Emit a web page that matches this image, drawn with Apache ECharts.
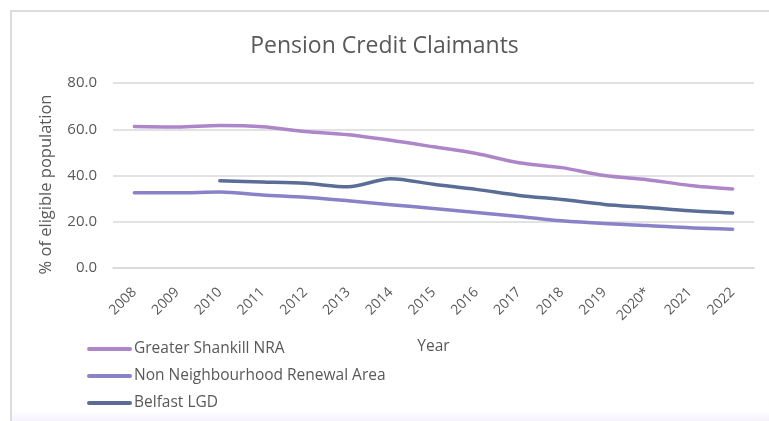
<!DOCTYPE html>
<html>
<head>
<meta charset="utf-8">
<script src="https://cdn.jsdelivr.net/npm/echarts@6/dist/echarts.min.js"></script>
<style>
  html, body { margin: 0; padding: 0; background: #fff; }
  .frame { position: absolute; left: 10px; top: 10px; width: 759px; height: 411px;
           border-top: 2px solid #dcdcdc; border-left: 2px solid #dcdcdc; box-sizing: border-box; }
  .fade { position: absolute; left: 12px; bottom: 0; width: 757px; height: 10px;
          background: linear-gradient(#ffffff, #f5f2fc); }
  #chart { position: absolute; left: 0; top: 0; width: 769px; height: 421px; }
</style>
</head>
<body>
<div class="frame"></div>
<div class="fade"></div>
<div id="chart"></div>
<script>
// data
const years = ['2008','2009','2010','2011','2012','2013','2014','2015','2016','2017','2018','2019','2020*','2021','2022'];
const shankill = [61.2, 61.0, 61.6, 61.1, 59.0, 57.6, 55.2, 52.4, 49.5, 45.5, 43.4, 40.0, 38.2, 35.7, 34.2];
const nonNRA = [32.5, 32.5, 32.9, 31.6, 30.6, 29.1, 27.4, 25.7, 24.0, 22.3, 20.4, 19.2, 18.4, 17.4, 16.8];
const belfast = [null, null, 37.7, 37.2, 36.6, 35.1, 38.6, 36.2, 34.0, 31.4, 29.6, 27.5, 26.2, 24.8, 23.8];

const txt = '#595959';
const font = '"Open Sans", "Noto Sans", sans-serif';

const myChart = echarts.init(document.getElementById('chart'), null, { renderer: 'canvas' });
myChart.setOption({
  animation: false,
  textStyle: { fontFamily: font },
  title: {
    text: 'Pension Credit Claimants',
    left: 'center',
    top: 30,
    textStyle: { fontFamily: font, fontSize: 23, fontWeight: 'normal', color: txt }
  },
  legend: {
    orient: 'vertical',
    left: 87,
    top: 341,
    padding: 0,
    itemWidth: 41,
    itemHeight: 14,
    itemGap: 11,
    itemStyle: { opacity: 0 },
    lineStyle: { width: 4 },
    textStyle: { fontFamily: font, fontSize: 15.5, color: txt, padding: [0, 0, 0, -1] },
    data: ['Greater Shankill NRA', 'Non Neighbourhood Renewal Area', 'Belfast LGD']
  },
  grid: { left: 113, right: 15, top: 83, bottom: 153, containLabel: false },
  xAxis: {
    type: 'category',
    data: years,
    name: 'Year',
    nameLocation: 'middle',
    nameGap: 71,
    nameTextStyle: { fontFamily: font, fontSize: 15.5, color: txt },
    axisLine: { lineStyle: { color: '#d9d9d9', width: 1.5 } },
    axisTick: { show: false },
    axisLabel: { rotate: 45, fontSize: 14, color: txt, margin: 22, interval: 0 }
  },
  yAxis: {
    type: 'value',
    min: 0, max: 80, interval: 20,
    name: '% of eligible population',
    nameLocation: 'middle',
    nameGap: 58,
    nameTextStyle: { fontFamily: font, fontSize: 16.5, color: txt, padding: [0, 18, 0, 0] },
    axisLine: { show: false },
    axisLabel: { fontSize: 15, color: txt, margin: 16, formatter: v => v.toFixed(1) },
    splitLine: { lineStyle: { color: '#d9d9d9', width: 1.5 } }
  },
  series: [
    { name: 'Greater Shankill NRA', type: 'line', data: shankill, smooth: 0.3, symbol: 'none',
      color: '#ad86ca', lineStyle: { width: 3.5, cap: 'round' } },
    { name: 'Non Neighbourhood Renewal Area', type: 'line', data: nonNRA, smooth: 0.3, symbol: 'none',
      color: '#8a82c9', lineStyle: { width: 3.5, cap: 'round' } },
    { name: 'Belfast LGD', type: 'line', data: belfast, smooth: 0.3, symbol: 'none',
      color: '#5a6d96', lineStyle: { width: 3.5, cap: 'round' } }
  ]
});
</script>
</body>
</html>
